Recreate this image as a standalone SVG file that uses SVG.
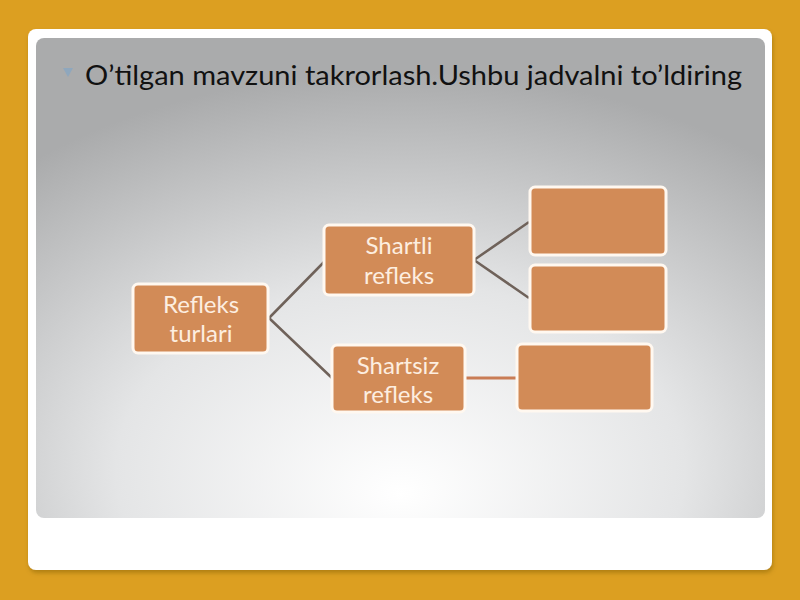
<svg xmlns="http://www.w3.org/2000/svg" width="800" height="600" viewBox="0 0 800 600">
<defs>
<radialGradient id="panel" cx="0.5" cy="0.85" r="0.78" fx="0.5" fy="0.95">
<stop offset="0" stop-color="#ffffff"/>
<stop offset="0.5" stop-color="#e4e5e6"/>
<stop offset="1" stop-color="#aaabac"/>
</radialGradient>
<filter id="sh" x="-5%" y="-5%" width="110%" height="110%">
<feDropShadow dx="1" dy="3" stdDeviation="2" flood-color="#7a5a10" flood-opacity="0.45"/>
</filter>
</defs>
<style>
.box{fill:#d28b57;stroke:#fff8f0;stroke-width:3}
.lbl{font-family:Lato,"Open Sans",sans-serif;font-size:24px;fill:#fdeee0;text-anchor:middle}
.ln{stroke:#6f625a;stroke-width:2.5;fill:none}
</style>
<rect x="0" y="0" width="800" height="600" fill="#dc9f21"/>
<rect x="28" y="29" width="744" height="541" rx="8" fill="#ffffff" filter="url(#sh)"/>
<rect x="36" y="38" width="729" height="480" rx="8" fill="url(#panel)"/>
<g id="title">
<path d="M63 68 L73 68 L68 77 Z" fill="#8fa7bd"/>
<text x="85" y="85" font-family="Lato,'Open Sans',sans-serif" font-size="27" fill="#111111" textLength="657" lengthAdjust="spacingAndGlyphs">O’tilgan mavzuni takrorlash.Ushbu jadvalni to’ldiring</text>
</g>
<g id="connectors">
<path class="ln" d="M269 318 L324 262 M269 318 L332 378"/>
<path class="ln" d="M474 260 L529 222 M474 260 L529 298"/>
<path d="M465 378 L516 378" stroke="#c97c55" stroke-width="3" fill="none"/>
</g>
<g id="refleks-turlari">
<rect class="box" x="133" y="284" width="135" height="69" rx="5"/>
<text class="lbl" x="201" y="313">Refleks</text>
<text class="lbl" x="201" y="342">turlari</text>
</g>
<g id="shartli">
<rect class="box" x="324" y="225" width="150" height="70" rx="5"/>
<text class="lbl" x="399" y="254">Shartli</text>
<text class="lbl" x="399" y="284">refleks</text>
</g>
<g id="shartsiz">
<rect class="box" x="332" y="345" width="133" height="67" rx="5"/>
<text class="lbl" x="398" y="374">Shartsiz</text>
<text class="lbl" x="398" y="403">refleks</text>
</g>
<g id="box1"><rect class="box" x="530" y="187" width="136" height="68" rx="5"/></g>
<g id="box2"><rect class="box" x="530" y="265" width="136" height="67" rx="5"/></g>
<g id="box3"><rect class="box" x="517" y="344" width="135" height="67" rx="5"/></g>
</svg>
